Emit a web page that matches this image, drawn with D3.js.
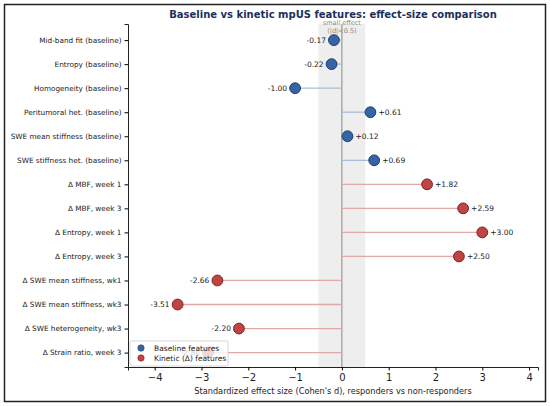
<!DOCTYPE html>
<html>
<head>
<meta charset="utf-8">
<script src="https://cdn.jsdelivr.net/npm/d3@7"></script>
<style>
  body { margin: 0; background: #fff; }
  svg text { font-family: "DejaVu Sans", sans-serif; }
</style>
</head>
<body>
<svg id="chart"></svg>
<script>
// data
var features = [
    "Mid-band fit (baseline)",
    "Entropy (baseline)",
    "Homogeneity (baseline)",
    "Peritumoral het. (baseline)",
    "SWE mean stiffness (baseline)",
    "SWE stiffness het. (baseline)",
    "\u0394 MBF, week 1",
    "\u0394 MBF, week 3",
    "\u0394 Entropy, week 1",
    "\u0394 Entropy, week 3",
    "\u0394 SWE mean stiffness, wk1",
    "\u0394 SWE mean stiffness, wk3",
    "\u0394 SWE heterogeneity, wk3",
    "\u0394 Strain ratio, week 3"
];
var effectSizes = [-0.17, -0.22, -1.00, 0.61, 0.12, 0.69, 1.82, 2.59, 3.00, 2.50, -2.66, -3.51, -2.20, -2.86];
var groups = ["base", "base", "base", "base", "base", "base", "kin", "kin", "kin", "kin", "kin", "kin", "kin", "kin"];
var xTicks = [-4, -3, -2, -1, 0, 1, 2, 3, 4];
var legendLabels = ["Baseline features", "Kinetic (\u0394) features"];

var w = 550, h = 406;
var plot = { left: 128, right: 538, top: 24, bottom: 367 };

var colors = {
    base: { dot: "#3565a5", edge: "#1f3d6e", stem: "#abbdd6" },
    kin:  { dot: "#bf4545", edge: "#7c2323", stem: "#e3a9a9" }
};

var svg = d3.select("#chart").attr("width", w).attr("height", h);

// figure frame
svg.append("rect")
    .attr("x", 4.5).attr("y", 4.5)
    .attr("width", w - 9).attr("height", h - 9)
    .attr("fill", "#fff").attr("stroke", "#222").attr("stroke-width", 1.5);

var x = d3.scaleLinear().domain([-4.57, 4.19]).range([plot.left, plot.right]);
var y = d3.scaleLinear().domain([-0.67, 13.6]).range([plot.top, plot.bottom]);

// small effect band
svg.append("rect")
    .attr("x", x(-0.5)).attr("y", plot.top)
    .attr("width", x(0.5) - x(-0.5)).attr("height", plot.bottom - plot.top)
    .attr("fill", "#eeeeee");

svg.append("line")
    .attr("x1", x(0)).attr("x2", x(0))
    .attr("y1", plot.top).attr("y2", plot.bottom)
    .attr("stroke", "#888").attr("stroke-width", 1);

svg.append("text")
    .attr("x", x(0)).attr("y", 25)
    .attr("text-anchor", "middle")
    .style("font-size", "6.5px").attr("fill", "#888")
    .text("small effect");
svg.append("text")
    .attr("x", x(0)).attr("y", 32.5)
    .attr("text-anchor", "middle")
    .style("font-size", "6.5px").attr("fill", "#888")
    .text("(|d|<0.5)");

// stems
svg.selectAll(".stem").data(effectSizes).enter().append("line")
    .attr("class", "stem")
    .attr("x1", x(0))
    .attr("x2", function (d) { return x(d); })
    .attr("y1", function (d, i) { return y(i); })
    .attr("y2", function (d, i) { return y(i); })
    .attr("stroke", function (d, i) { return colors[groups[i]].stem; })
    .attr("stroke-width", 1.3);

// dots
svg.selectAll(".dot").data(effectSizes).enter().append("circle")
    .attr("class", "dot")
    .attr("cx", function (d) { return x(d); })
    .attr("cy", function (d, i) { return y(i); })
    .attr("r", 5.4)
    .attr("fill", function (d, i) { return colors[groups[i]].dot; })
    .attr("stroke", function (d, i) { return colors[groups[i]].edge; })
    .attr("stroke-width", 1);

// value labels
svg.selectAll(".val").data(effectSizes).enter().append("text")
    .attr("class", "val")
    .attr("x", function (d) { return x(d) + (d < 0 ? -8 : 8); })
    .attr("y", function (d, i) { return y(i); })
    .attr("dy", "0.35em")
    .attr("text-anchor", function (d) { return d < 0 ? "end" : "start"; })
    .style("font-size", "7.5px").attr("fill", "#222")
    .text(function (d) { return (d > 0 ? "+" : "") + d.toFixed(2); });

// axes
var xAxis = svg.append("g")
    .attr("transform", "translate(0," + plot.bottom + ")")
    .call(d3.axisBottom(x).tickValues(xTicks).tickSize(3.5).tickPadding(3)
        .tickFormat(function (d) { return d < 0 ? "\u2212" + Math.abs(d) : d; }));
xAxis.select(".domain").attr("stroke", "#222");
xAxis.selectAll("text").style("font-size", "10px").attr("fill", "#222");

var yAxis = svg.append("g")
    .attr("transform", "translate(" + plot.left + ",0)")
    .call(d3.axisLeft(y).tickValues(d3.range(features.length)).tickSize(3.5).tickPadding(3)
        .tickFormat(function (d) { return features[d]; }));
yAxis.select(".domain").attr("stroke", "#222");
yAxis.selectAll("text").style("font-size", "7.3px").attr("fill", "#222");

svg.append("text")
    .attr("x", (plot.left + plot.right) / 2).attr("y", 394)
    .attr("text-anchor", "middle")
    .style("font-size", "8.2px").attr("fill", "#222")
    .text("Standardized effect size (Cohen's d), responders vs non-responders");

svg.append("text")
    .attr("x", (plot.left + plot.right) / 2).attr("y", 18)
    .attr("text-anchor", "middle")
    .style("font-size", "10px").style("font-weight", "bold")
    .attr("fill", "#1c2f5c")
    .text("Baseline vs kinetic mpUS features: effect-size comparison");

// legend
var legend = svg.append("g").attr("transform", "translate(130,341)");
legend.append("rect")
    .attr("width", 98).attr("height", 25).attr("rx", 2)
    .attr("fill", "#fff").attr("fill-opacity", 0.8)
    .attr("stroke", "#ccc").attr("stroke-width", 0.8);
legend.selectAll(".lg").data(legendLabels).enter().append("g")
    .attr("transform", function (d, i) { return "translate(0," + (7 + i * 10) + ")"; })
    .each(function (d, i) {
        var g = d3.select(this), c = colors[i === 0 ? "base" : "kin"];
        g.append("circle").attr("cx", 11).attr("cy", 0).attr("r", 3.2)
            .attr("fill", c.dot).attr("stroke", c.edge).attr("stroke-width", 0.6);
        g.append("text").attr("x", 24).attr("dy", "0.35em")
            .style("font-size", "7.5px").attr("fill", "#222").text(d);
    });
</script>
</body>
</html>
